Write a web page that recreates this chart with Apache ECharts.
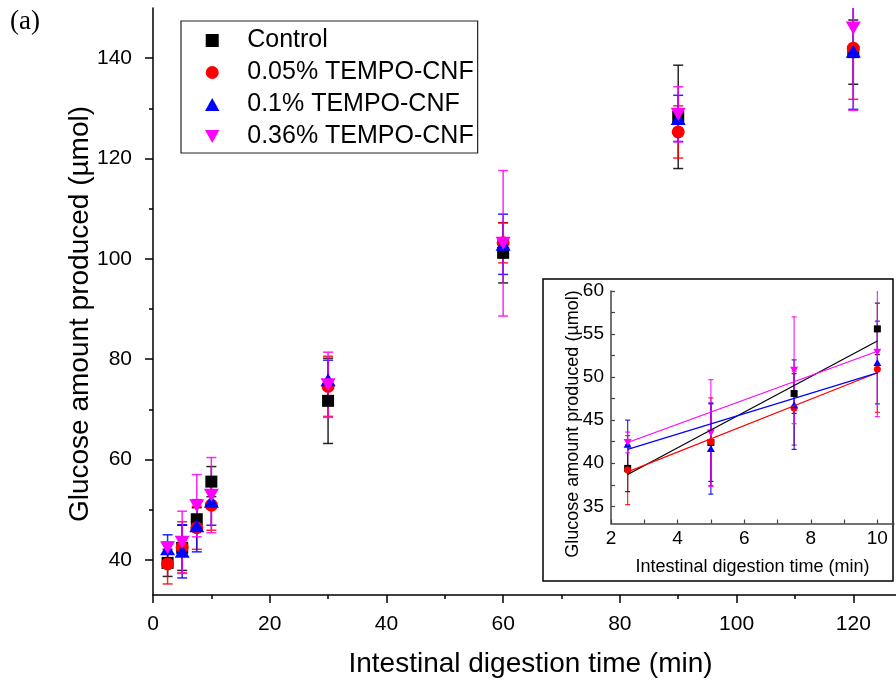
<!DOCTYPE html>
<html>
<head>
<meta charset="utf-8">
<script src="https://cdn.jsdelivr.net/npm/echarts@6/dist/echarts.min.js"></script>
<style>html,body{margin:0;padding:0;background:#fff}#chart{width:896px;height:685px}</style>
</head>
<body>
<div id="chart"></div>
<script>
// ---- data ----
const times = [2.5, 5, 7.5, 10, 30, 60, 90, 120];
const seriesNames = ['Control', '0.05% TEMPO-CNF', '0.1% TEMPO-CNF', '0.36% TEMPO-CNF'];
const control    = [39.4, 42.4, 48.1, 55.6, 71.7, 101.2, 128.3, 141.2];
const controlErr = [2.7, 4.5, 2.3, 3.0, 8.5, 6.0, 10.3, 6.4];
const cnf005     = [39.2, 42.5, 46.4, 50.9, 74.6, 103.2, 125.3, 142.0];
const cnf005Err  = [4.0, 5.1, 4.3, 5.0, 6.0, 4.0, 5.2, 10.2];
const cnf01      = [42.2, 41.7, 46.8, 51.7, 75.9, 102.9, 128.0, 141.4];
const cnf01Err   = [2.8, 5.3, 5.2, 4.8, 3.9, 6.0, 4.6, 11.6];
const cnf036     = [42.4, 43.5, 50.8, 52.9, 74.9, 103.1, 128.8, 146.0];
const cnf036Err  = [1.2, 6.2, 6.2, 7.5, 6.5, 14.5, 5.5, 16.4];
// linear fits shown in the inset (values at the ends of each fit line)
const fitX        = [2.5, 10];
const fitControl  = [38.7, 54.2];
const fit005      = [39.0, 50.5];
const fit01       = [41.6, 50.5];
const fit036      = [42.4, 53.0];
// ticks
const mainYTicks = [40, 60, 80, 100, 120, 140];
const mainYMinor = [50, 70, 90, 110, 130];
const insetXLabels = [2, 4, 6, 8, 10];
const insetXTicks = [2, 3, 4, 5, 6, 7, 8, 9, 10];
const insetYLabels = [35, 40, 45, 50, 55, 60];
const insetYTicks = [35, 37.5, 40, 42.5, 45, 47.5, 50, 52.5, 55, 57.5, 60];

const values = [control, cnf005, cnf01, cnf036];
const errors = [controlErr, cnf005Err, cnf01Err, cnf036Err];
const fits = [fitControl, fit005, fit01, fit036];
const colors = ['#000000', '#ff0000', '#0000ff', '#ff00ff'];
const FONT = '"Liberation Sans", Arial, sans-serif';

const mainSymbols = [
  {symbol: 'rect', size: 12, rotate: 0},
  {symbol: 'circle', size: 13, rotate: 0},
  {symbol: 'triangle', size: [15, 13], rotate: 0},
  {symbol: 'triangle', size: [15, 13], rotate: 180}
];
const insetSymbols = [
  {symbol: 'rect', size: 7, rotate: 0},
  {symbol: 'circle', size: 7, rotate: 0},
  {symbol: 'triangle', size: [8, 7], rotate: 0},
  {symbol: 'triangle', size: [8, 7], rotate: 180}
];
const legendIcons = [
  'path://M0,0H10V10H0Z',
  'path://M5,0A5,5,0,1,1,5,10A5,5,0,1,1,5,0Z',
  'path://M5,0L10,9L0,9Z',
  'path://M0,0L10,0L5,9Z'
];

function errRender(color, capHalf, lw) {
  return function (params, api) {
    const x = api.value(0), y = api.value(1), e = api.value(2);
    const c = api.coord([x, y]);
    const t = api.coord([x, y + e]);
    const b = api.coord([x, y - e]);
    return {
      type: 'group',
      children: [
        {type: 'line', shape: {x1: c[0], y1: t[1], x2: c[0], y2: b[1]}, style: {stroke: color, lineWidth: lw, opacity: 0.85}},
        {type: 'line', shape: {x1: c[0] - capHalf, y1: t[1], x2: c[0] + capHalf, y2: t[1]}, style: {stroke: color, lineWidth: lw, opacity: 0.85}},
        {type: 'line', shape: {x1: c[0] - capHalf, y1: b[1], x2: c[0] + capHalf, y2: b[1]}, style: {stroke: color, lineWidth: lw, opacity: 0.85}}
      ]
    };
  };
}

const series = [];
// main plot
for (let i = 0; i < 4; i++) {
  series.push({
    type: 'custom', name: seriesNames[i] + ' err', xAxisIndex: 0, yAxisIndex: 0, clip: true,
    renderItem: errRender(colors[i], 5, 1.5),
    data: times.map((t, k) => [t, values[i][k], errors[i][k]])
  });
  series.push({
    type: 'scatter', name: seriesNames[i], xAxisIndex: 0, yAxisIndex: 0,
    symbol: mainSymbols[i].symbol, symbolSize: mainSymbols[i].size, symbolRotate: mainSymbols[i].rotate,
    itemStyle: {color: colors[i], opacity: 1},
    data: times.map((t, k) => [t, values[i][k]])
  });
}
// inset
for (let i = 0; i < 4; i++) {
  series.push({
    type: 'line', name: seriesNames[i] + ' fit', xAxisIndex: 1, yAxisIndex: 2,
    showSymbol: false, symbol: 'none', silent: true,
    lineStyle: {color: colors[i], width: 1.2},
    data: fitX.map((x, k) => [x, fits[i][k]])
  });
}
for (let i = 0; i < 4; i++) {
  const idx = times.map((t, k) => k).filter(k => times[k] <= 10);
  series.push({
    type: 'custom', name: seriesNames[i] + ' inset err', xAxisIndex: 1, yAxisIndex: 2, clip: true,
    renderItem: errRender(colors[i], 2.5, 1.2),
    data: idx.map(k => [times[k], values[i][k], errors[i][k]])
  });
  series.push({
    type: 'scatter', name: seriesNames[i] + ' inset', xAxisIndex: 1, yAxisIndex: 2,
    symbol: insetSymbols[i].symbol, symbolSize: insetSymbols[i].size, symbolRotate: insetSymbols[i].rotate,
    itemStyle: {color: colors[i], opacity: 1},
    data: idx.map(k => [times[k], values[i][k]])
  });
}

const axisLineMain = {show: true, onZero: false, lineStyle: {color: '#000', width: 1.5}};
const axisLineInset = {show: true, onZero: false, lineStyle: {color: '#444', width: 1.5}};

const option = {
  animation: false,
  backgroundColor: '#ffffff',
  textStyle: {fontFamily: FONT},
  grid: [
    {left: 153, top: 8, width: 817, height: 587, outerBoundsMode: 'none', containLabel: false},
    {left: 611, top: 291, width: 283, height: 232.5, outerBoundsMode: 'none', containLabel: false}
  ],
  legend: {
    orient: 'vertical', left: 181, top: 21,
    padding: [7, 4, 4, 24],
    borderColor: '#222', borderWidth: 1.2,
    itemWidth: 60, itemHeight: 13, itemGap: 7,
    symbolKeepAspect: true,
    textStyle: {fontSize: 25, color: '#000', fontFamily: FONT, lineHeight: 25},
    data: seriesNames.map((n, i) => ({name: n, icon: legendIcons[i], itemStyle: {color: colors[i]}}))
  },
  xAxis: [
    {
      type: 'value', gridIndex: 0, min: 0, max: 140, interval: 20, position: 'bottom',
      axisLine: axisLineMain,
      axisTick: {show: true, inside: false, length: 8, lineStyle: {color: '#000', width: 1.5}},
      minorTick: {show: true, splitNumber: 2, length: 4, lineStyle: {color: '#000', width: 1.5}},
      axisLabel: {fontSize: 21, color: '#000', margin: 19, fontFamily: FONT},
      splitLine: {show: false}, minorSplitLine: {show: false},
      name: 'Intestinal digestion time (min)', nameLocation: 'middle', nameGap: 55,
      nameTextStyle: {fontSize: 28, color: '#000', fontFamily: FONT, padding: [0, 62, 0, 0]}
    },
    {
      type: 'value', gridIndex: 1, min: 2, max: 10.5, position: 'bottom',
      axisLine: axisLineInset,
      axisTick: {show: true, inside: true, length: 4, lineStyle: {color: '#444', width: 1.2}, customValues: insetXTicks},
      axisLabel: {customValues: insetXLabels, fontSize: 19, color: '#000', margin: 6, fontFamily: FONT},
      splitLine: {show: false},
      name: 'Intestinal digestion time (min)', nameLocation: 'middle', nameGap: 35,
      nameTextStyle: {fontSize: 18, color: '#000', fontFamily: FONT}
    }
  ],
  yAxis: [
    {
      type: 'value', gridIndex: 0, min: 33, max: 150, position: 'left',
      axisLine: axisLineMain,
      axisTick: {show: true, inside: false, length: 8, lineStyle: {color: '#000', width: 1.5}, customValues: mainYTicks},
      axisLabel: {customValues: mainYTicks, fontSize: 21, color: '#000', margin: 21, fontFamily: FONT},
      splitLine: {show: false}
    },
    {
      type: 'value', gridIndex: 0, min: 33, max: 150, position: 'left',
      axisLine: {show: false, onZero: false},
      axisTick: {show: true, inside: false, length: 4, lineStyle: {color: '#000', width: 1.5}, customValues: mainYMinor},
      axisLabel: {show: false}, splitLine: {show: false}
    },
    {
      type: 'value', gridIndex: 1, min: 33, max: 60, position: 'left',
      axisLine: axisLineInset,
      axisTick: {show: true, inside: true, length: 4, lineStyle: {color: '#444', width: 1.2}, customValues: insetYTicks},
      axisLabel: {customValues: insetYLabels, fontSize: 19, color: '#000', margin: 7, fontFamily: FONT},
      splitLine: {show: false}
    }
  ],
  graphic: [
    {type: 'rect', z: -1, shape: {x: 543, y: 279, width: 350, height: 302},
     style: {fill: '#ffffff', stroke: '#000', lineWidth: 1.5}},
    {type: 'text', x: 10, y: 22, z: 10,
     style: {text: '(a)', font: '27px "Liberation Serif", "Times New Roman", serif', fill: '#000', align: 'left', verticalAlign: 'middle'}},
    {type: 'text', x: 80, y: 314, rotation: Math.PI / 2, z: 10,
     style: {text: 'Glucose amount produced (µmol)', font: '28px ' + FONT, fill: '#000', align: 'center', verticalAlign: 'middle'}},
    {type: 'text', x: 573, y: 424, rotation: Math.PI / 2, z: 10,
     style: {text: 'Glucose amount produced (µmol)', font: '18px ' + FONT, fill: '#000', align: 'center', verticalAlign: 'middle'}}
  ],
  series: series
};

const chart = echarts.init(document.getElementById('chart'), null, {renderer: 'canvas'});
chart.setOption(option);
</script>
</body>
</html>
